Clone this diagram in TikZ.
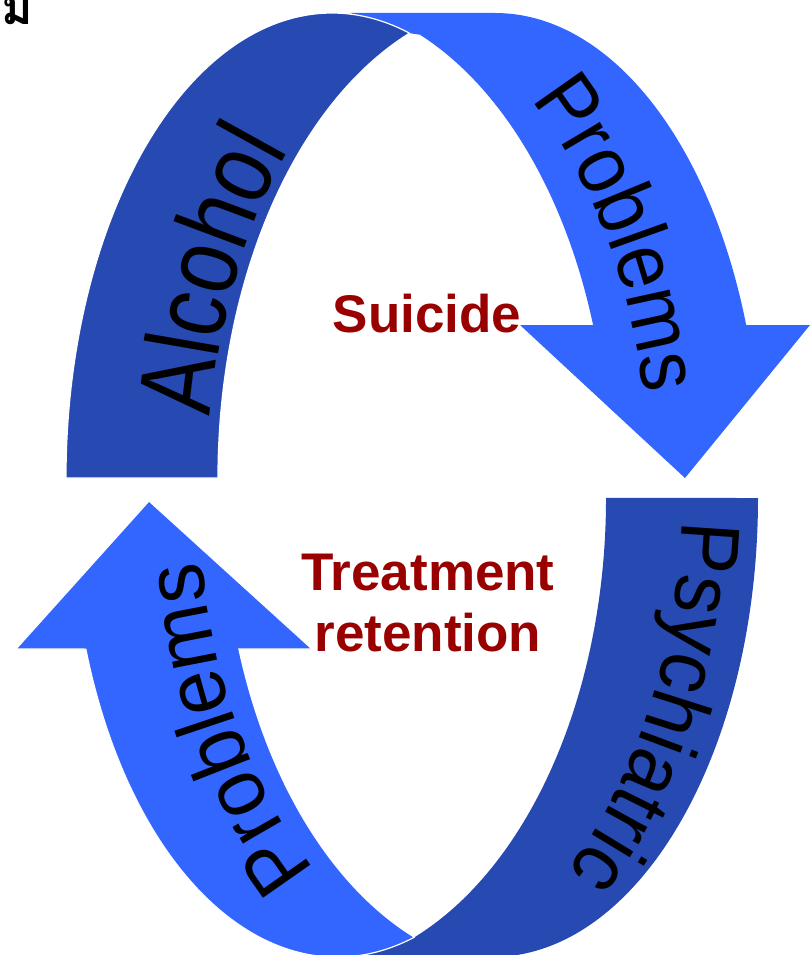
\documentclass[tikz,border=0pt]{standalone}
\usepackage{fontspec}
\setmainfont{Liberation Sans}
\newfontfamily\thaifont[Script=Thai]{Loma}
\newfontfamily\wordalc[FakeStretch=0.82]{Liberation Sans}
\newfontfamily\wordtop[FakeStretch=0.90]{Liberation Sans}
\newfontfamily\wordpsy[FakeStretch=0.92]{Liberation Sans}
\newfontfamily\wordlow[FakeStretch=0.94]{Liberation Sans}
\usetikzlibrary{decorations.text}
\definecolor{ribbonlight}{HTML}{3366FF}
\definecolor{ribbondark}{HTML}{2649B2}
\definecolor{labelred}{HTML}{990000}
\tikzset{
  lightband/.style={fill=ribbonlight, draw=none},
  darkband/.style={fill=ribbondark, draw=none},
  foldedge/.style={draw=white, line width=1.2pt},
  bandword/.style 2 args={decorate, decoration={text along path, text align=center,
      text color=black, text={|#1|#2}}},
  centrelabel/.style={text=labelred, font=\bfseries\fontsize{53}{53}\selectfont,
      inner sep=0pt, anchor=base},
}
\begin{document}
\begin{tikzpicture}[x=1pt, y=1pt]
\useasboundingbox (0,0) rectangle (810,-955);
\clip (0,0) rectangle (810,-955);

% upper ribbon: front band with its arrow head, then the folded back band on top
\path[lightband] (350,-13) -- (495,-13)
  arc[start angle=90, end angle=19.21, x radius=266pt, y radius=465pt]
  -- (810,-325) -- (685,-478) -- (520,-325) -- (593.1,-325)
  arc[start angle=18.67, end angle=68.03, x radius=302pt, y radius=478pt]
  -- (409.5,-33.2) -- cycle;
\path[darkband, foldedge] (66,-478)
  arc[start angle=180, end angle=73.06, x radius=266pt, y radius=465pt]
  arc[start angle=111.46, end angle=180, x radius=302pt, y radius=478pt]
  -- cycle;

% lower ribbon: back band first, then the front band with its arrow head
\path[darkband] (758,-498)
  arc[start angle=0, end angle=-90, x radius=266pt, y radius=459pt]
  -- (360,-957) -- (414.2,-937.4)
  arc[start angle=-68.6, end angle=0, x radius=302pt, y radius=472pt]
  -- cycle;
\path[lightband, foldedge] (414.2,-937.3)
  arc[start angle=-73.13, end angle=-160.79, x radius=266pt, y radius=459pt]
  -- (16,-649) -- (149,-501) -- (312,-649) -- (238.9,-649)
  arc[start angle=-161.34, end angle=-111.52, x radius=302pt, y radius=472pt]
  -- cycle;

% words set along the bands
\path[bandword={\wordalc\fontsize{104}{104}\selectfont}{Alcohol}]
  (520,-478) ++(184:312pt and 488pt)
  arc[start angle=184, end angle=124, x radius=312pt, y radius=488pt];
\path[bandword={\wordtop\fontsize{84}{84}\selectfont}{Problems}]
  (307,-478) ++(60:342pt and 500pt)
  arc[start angle=60, end angle=1, x radius=342pt, y radius=500pt];
\path[bandword={\wordpsy\fontsize{84}{84}\selectfont}{Psychiatric}]
  (304,-498) ++(2:378pt and 520pt)
  arc[start angle=2, end angle=-51, x radius=378pt, y radius=520pt];
\path[bandword={\wordlow\fontsize{84}{84}\selectfont}{Problems}]
  (525,-498) ++(238:326pt and 486pt)
  arc[start angle=238, end angle=181, x radius=326pt, y radius=486pt];

% labels in the middle
\node[centrelabel] (suicide) at (427,-332) {Suicide};
\node[centrelabel] (treatment) at (428,-590) {Treatment};
\node[centrelabel] (retention) at (428,-651) {retention};

% corner mark
\node[anchor=base west, inner sep=0pt] (mark) at (1,-25)
  {\thaifont\bfseries\fontsize{48}{48}\selectfont ม};
\end{tikzpicture}
\end{document}
